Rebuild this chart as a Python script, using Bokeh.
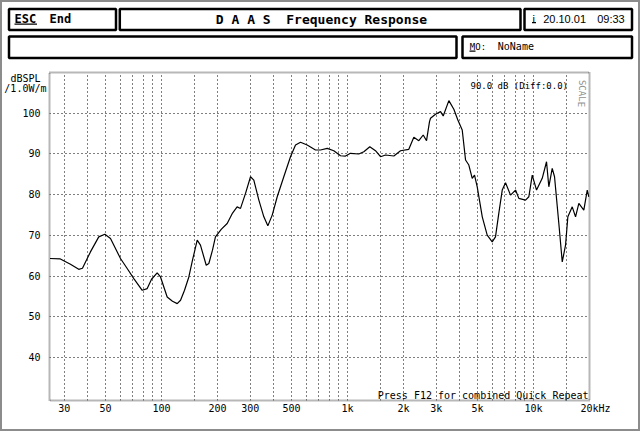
from bokeh.plotting import figure
from bokeh.models import FixedTicker, Label
from bokeh.core.properties import value
from bokeh.embed import file_html
from bokeh.resources import INLINE

# ---------------- data ----------------
freq_hz = [25.15, 28.6, 32.4, 35.9, 37.6, 41.5, 46.0, 49.6, 53.2, 60.2, 65.4, 71.0, 78.8,
           83.8, 88.4, 94.8, 98.8, 107.3, 114.6, 121.5, 126.6, 133, 140.3, 146.8, 155.6,
           162, 174, 179.7, 188, 195, 210, 225.5, 241, 255, 266, 283, 301, 313.6, 333.8,
           355, 373, 393.8, 419, 454.5, 493.8, 525.5, 559, 607, 673, 716, 778, 844, 917,
           976, 1038, 1150, 1224, 1318, 1414, 1505, 1601, 1775, 1928, 2136, 2273, 2418,
           2553, 2660, 2760, 2795, 2973, 3163, 3270, 3507, 3730, 3920, 4138, 4312, 4491,
           4683, 4818, 4982, 5303, 5638, 5997, 6246, 6507, 6790, 7073, 7525, 8006, 8340,
           9060, 9440, 9845, 10383, 11140, 11748, 12088, 12607, 12973, 13683, 14272,
           14868, 15298, 16153, 16826, 17526, 18640, 19450, 19840]
spl_db = [64.35, 64.25, 62.95, 61.7, 61.95, 65.97, 69.66, 70.32, 69.26, 64.35, 61.89, 59.43,
          56.55, 56.97, 59.26, 60.8, 59.82, 54.9, 53.85, 53.28, 54.1, 56.55, 59.82, 63.93,
          68.85, 67.62, 62.7, 63.12, 66.4, 69.66, 71.55, 72.95, 75.5, 77.03, 76.64, 80.33,
          84.41, 83.6, 78.68, 74.58, 72.36, 75.0, 79.5, 84.41, 89.33, 92.2, 92.87, 92.2,
          90.98, 90.98, 91.39, 90.8, 89.57, 89.5, 90.16, 90.0, 90.56, 91.79, 90.8, 89.33,
          89.75, 89.5, 90.8, 91.15, 94.1, 93.26, 94.66, 93.26, 97.93, 98.77, 99.75, 100.39,
          99.34, 103.1, 100.98, 98.35, 95.9, 88.52, 87.29, 84.02, 84.83, 81.95, 74.58,
          70.08, 68.43, 69.66, 75.41, 81.14, 82.94, 79.91, 81.14, 79.1, 78.68, 79.5, 84.83,
          81.14, 84.02, 88.1, 81.95, 86.48, 84.41, 72.95, 63.51, 67.62, 74.58, 77.03, 74.58,
          77.87, 76.22, 81.14, 79.5]

NB = "\u00a0"
x_tick_values = [30, 50, 100, 200, 300, 500, 1000, 2000, 3000, 5000, 10000, 20000]
x_tick_labels = ["30", "50", "100", "200", "300", "500", "1k", "2k", "3k", "5k", "10k",
                 NB + NB + "20kHz"]
x_grid_values = [30, 40, 50, 60, 70, 80, 90, 100, 150, 200, 300, 400, 500, 600, 700, 800,
                 900, 1000, 1500, 2000, 3000, 4000, 5000, 6000, 7000, 8000, 9000, 10000, 15000]
y_tick_values = [40, 50, 60, 70, 80, 90, 100]
y_unit_lines = ["dBSPL", "/1.0W/m"]
y_unit_positions = [108.53, 106.07]

MONO = "DejaVu Sans Mono"
EDGE = "#8c8c8c"

# ---------------- header (page y 0..64) ----------------
HW, HH = 640, 64
hdr = figure(width=HW, height=HH, x_range=(0, HW), y_range=(HH, 0), output_backend="svg",
             toolbar_location=None, x_axis_location=None, y_axis_location=None,
             min_border=0, min_border_left=0, min_border_right=0, min_border_top=0,
             min_border_bottom=0)
hdr.grid.visible = False
hdr.outline_line_color = None
hdr.background_fill_color = None
hdr.border_fill_color = None
hdr.styles = {"background": "white",
              "box-shadow": f"inset 2px 0 0 {EDGE}, inset -2px 0 0 {EDGE}, inset 0 2px 0 {EDGE}"}

box_left = [8.5, 119.3, 524, 8.5, 462]
box_right = [115.5, 520, 631.5, 456, 631.5]
box_top = [8.5, 8.5, 8.5, 36, 36]
box_bottom = [29.5, 29.5, 29.5, 57.5, 57.5]
hdr.quad(left=box_left, right=box_right, top=box_top, bottom=box_bottom,
         fill_color=None, line_color="black", line_width=2.5)

# underlines for hot keys
hdr.quad(left=[14, 531.5, 469], right=[36.5, 535.5, 475], top=[23, 21.5, 50],
         bottom=[24.2, 22.7, 51.2], fill_color="black", line_color=None)

hdr.text(x=[14, 49], y=[18.5, 18.5], text=["ESC", "End"], text_font=value(MONO),
         text_font_size="12px", text_font_style="bold", text_baseline="middle")
hdr.text(x=[321], y=[19], text=["D A A S" + NB + NB + "Frequency Response"],
         text_font=value(MONO), text_font_size="13px", text_font_style="bold",
         text_baseline="middle", text_align="center")
hdr.text(x=[532, 542.7, 596.7], y=[18, 18, 18], text=["i", "20.10.01", "09:33"],
         text_font=value("Liberation Sans"), text_font_size="11px", text_baseline="middle")
hdr.text(x=[469.3], y=[46], text=["MO:"], text_font=value(MONO), text_font_size="9px",
         text_baseline="middle")
hdr.text(x=[497.3], y=[46], text=["NoName"], text_font=value(MONO), text_font_size="10px",
         text_baseline="middle")

# ---------------- main chart (page y 64..431) ----------------
# frame on page: left 49, right 589, top 72, bottom 400
FL, FB = 49, 400
p = figure(width=640, height=367, x_axis_type="log", x_range=(25, 20000), y_range=(29.5, 110),
           output_backend="svg", toolbar_location=None,
           min_border_left=49, min_border_right=51, min_border_top=8, min_border_bottom=31)
p.background_fill_color = "white"
p.border_fill_color = None
p.styles = {"background": "white",
            "box-shadow": f"inset 2px 0 0 {EDGE}, inset -2px 0 0 {EDGE}, inset 0 -2px 0 {EDGE}"}
p.outline_line_color = "#707070"
p.outline_line_width = 2
p.outline_line_dash = "1 1"

for ax in (p.xaxis[0], p.yaxis[0]):
    ax.axis_line_color = None
    ax.major_tick_line_color = None
    ax.minor_tick_line_color = None
    ax.major_tick_out = 0
    ax.major_tick_in = 0
    ax.minor_tick_out = 0
    ax.minor_tick_in = 0
    ax.major_label_text_font = MONO
    ax.major_label_text_font_size = "10px"
    ax.major_label_text_color = "black"

p.xaxis[0].ticker = FixedTicker(ticks=x_tick_values, minor_ticks=[])
p.xaxis[0].major_label_overrides = {v: s for v, s in zip(x_tick_values, x_tick_labels)}
p.xaxis[0].major_label_standoff = 2

y_all = y_tick_values + y_unit_positions
y_labels = {v: str(v) + NB for v in y_tick_values}
y_labels[y_unit_positions[0]] = y_unit_lines[0] + NB
y_labels[y_unit_positions[1]] = y_unit_lines[1]
p.yaxis[0].ticker = FixedTicker(ticks=y_all, minor_ticks=[])
p.yaxis[0].major_label_overrides = y_labels
p.yaxis[0].major_label_standoff = 3

p.xgrid.ticker = FixedTicker(ticks=x_grid_values, minor_ticks=[])
p.ygrid.ticker = FixedTicker(ticks=y_tick_values, minor_ticks=[])
for g in (p.xgrid[0], p.ygrid[0]):
    g.grid_line_color = "black"
    g.grid_line_dash = "1 3"
    g.grid_line_width = 1

p.line(freq_hz, spl_db, line_color="black", line_width=1.2)


def lab(text, ax, ay, size="10px", align="left", color="black", angle=0.0):
    p.add_layout(Label(x=ax - FL, y=FB - ay, x_units="screen", y_units="screen", text=text,
                       text_font=MONO, text_font_size=size, text_align=align,
                       text_baseline="middle", text_color=color, angle=angle))


lab("90.0 dB (Diff:0.0)", 470, 85, size="9px")
lab("SCALE", 581, 93, size="9px", align="center", color="#909090", angle=-1.5708)
lab("Press F12 for combined Quick Repeat", 588, 395, align="right")

open("out.html", "w").write(file_html([hdr, p], INLINE))
